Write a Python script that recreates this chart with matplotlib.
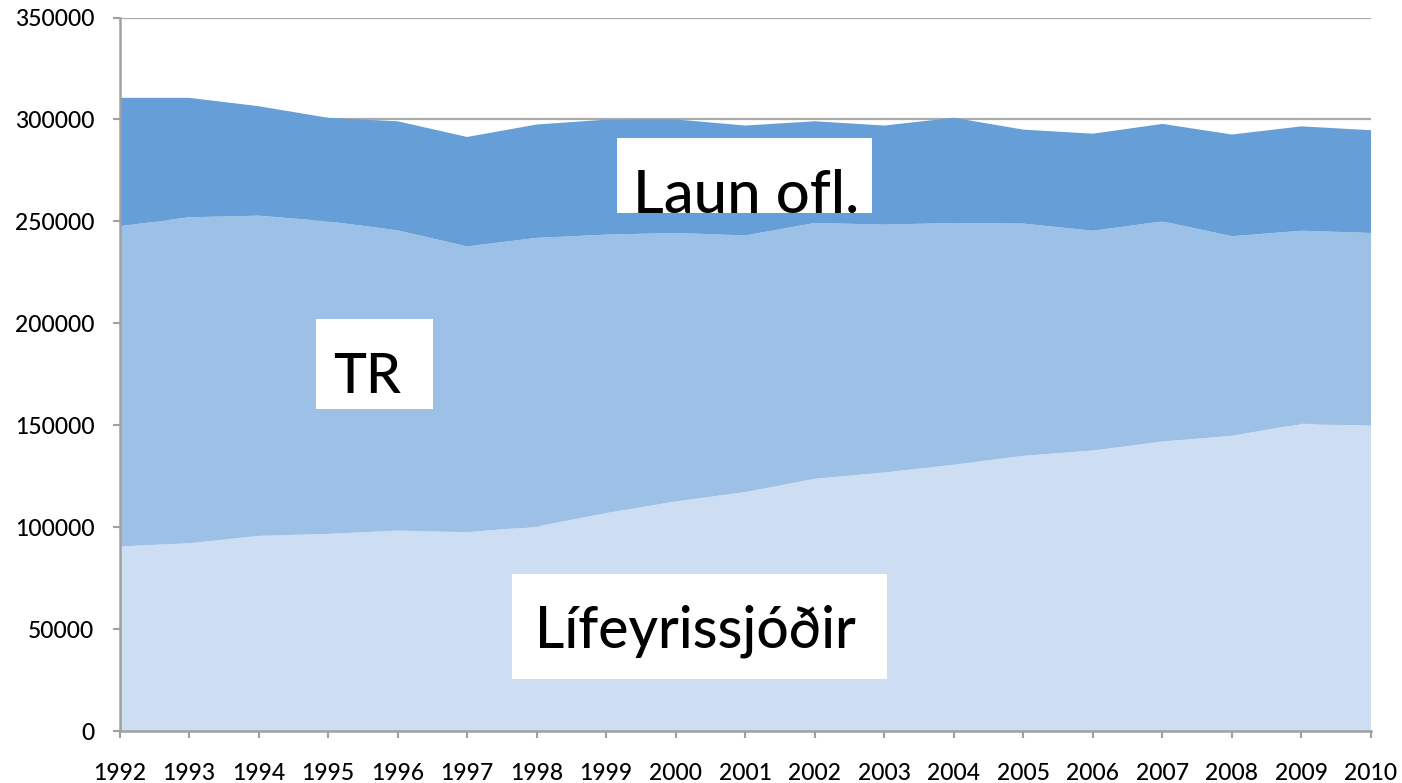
import matplotlib
matplotlib.use("Agg")
import matplotlib.pyplot as plt
from matplotlib.patches import Rectangle

years = list(range(1992, 2011))
lifeyrissjodir = [90500, 92100, 95700, 96700, 98300, 97500, 100300, 106900, 112600, 117200,
                  123700, 126800, 130600, 135000, 137600, 142000, 144800, 150700, 150000]
tr_top = [247600, 252000, 252800, 250000, 245600, 237700, 241900, 243500, 244300, 243100,
          249200, 248400, 249200, 248900, 245400, 250000, 242700, 245400, 244300]
total = [310600, 310600, 306500, 300800, 299100, 291400, 297500, 299900, 300000, 297000,
         299100, 297000, 300800, 295000, 293000, 297800, 292600, 296600, 294700]
tr = [t - l for t, l in zip(tr_top, lifeyrissjodir)]
laun = [s - t for s, t in zip(total, tr_top)]

series_labels = ["Lífeyrissjóðir", "TR", "Laun ofl."]
colors = ["#CDDEF3", "#9DC1E6", "#669ED8"]
yticks = list(range(0, 350001, 50000))

W, H = 1402, 783
fig = plt.figure(figsize=(W / 100, H / 100), dpi=100)
ax = fig.add_axes([119.5 / W, 1 - 731 / H, (1371 - 119.5) / W, (731 - 17.5) / H])

ax.stackplot(years, lifeyrissjodir, tr, laun, colors=colors, linewidth=0, zorder=2)
ax.set_xlim(years[0], years[-1])
ax.set_ylim(0, 350000)
ax.set_xticks(years)
ax.set_xticklabels([str(y) for y in years])
ax.set_yticks(yticks)
ax.set_yticklabels([str(v) for v in yticks])
ax.yaxis.grid(True, color="#aaaaaa", linewidth=1.6, zorder=0)
ax.set_axisbelow(True)
for s in ["top", "right"]:
    ax.spines[s].set_visible(False)
for s in ["left", "bottom"]:
    ax.spines[s].set_color("#a0a0a0")
    ax.spines[s].set_linewidth(1.8)
    ax.spines[s].set_zorder(3)
ax.tick_params(axis="both", colors="#a0a0a0", length=5, width=1.5, labelcolor="black",
               labelsize=16.5)
ax.tick_params(axis="y", pad=13)
ax.tick_params(axis="x", pad=18)
for lab in ax.get_xticklabels() + ax.get_yticklabels():
    lab.set_family("Lato")
    lab.set_weight(500)

def px_box(x0, y0, x1, y1):
    fig.add_artist(Rectangle((x0 / W, 1 - y1 / H), (x1 - x0) / W, (y1 - y0) / H,
                             transform=fig.transFigure, facecolor="white",
                             edgecolor="none", zorder=5))

def px_text(cx, by, s, size):
    fig.text(cx / W, 1 - by / H, s, ha="center", va="baseline", fontsize=size,
             family="Lato", weight=500, color="black", zorder=6)

px_box(617, 138.3, 872, 213.3)
px_text(746.5, 212.7, series_labels[2], 43)
px_box(316, 319, 433.3, 409)
px_text(367, 392.7, series_labels[1], 40)
px_box(511.7, 574.3, 887.3, 679)
px_text(695.8, 647.3, series_labels[0], 41)

fig.savefig("out.png", dpi=100)
